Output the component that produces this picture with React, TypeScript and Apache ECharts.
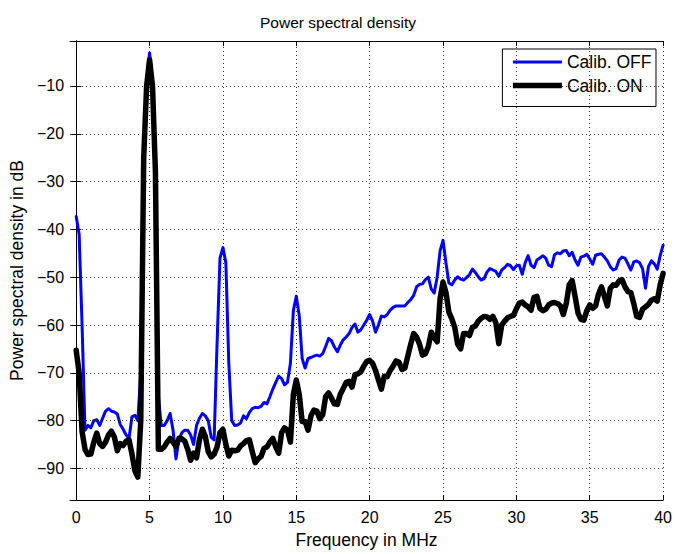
import React, { useEffect, useRef } from "react";
import * as echarts from "echarts";

const TITLE = "Power spectral density";
const X_NAME = "Frequency in MHz";
const Y_NAME = "Power spectral density in dB";
const SERIES_NAMES = ["Calib. OFF", "Calib. ON"];
const X_TICKS = [0, 5, 10, 15, 20, 25, 30, 35, 40];
const Y_TICKS = [-90, -80, -70, -60, -50, -40, -30, -20, -10];

// sampling grid: 0 .. 40 MHz, 0.2 MHz step
const FREQ = Array.from({ length: 201 }, (_, i) => Math.round(i * 2) / 10);

const CALIB_OFF = [
  -37.3, -41, -60, -82, -81, -81.5, -80, -79.8, -81, -79.5,
  -78, -77.5, -78, -78.2, -78.6, -80.8, -81.8, -83, -83.7, -79.2,
  -78.9, -80, -70, -30, -9, -3.1, -9, -30, -75, -81,
  -81, -80, -78.5, -82, -88, -84, -82.5, -82, -82, -83,
  -85, -81, -79.5, -78.5, -79, -80, -83.5, -84, -64, -46,
  -43.8, -47, -68, -80, -81, -80.9, -80.5, -79, -79.6, -78.3,
  -77.5, -77.2, -77.3, -77, -76.2, -76.5, -75, -73.4, -72, -70.7,
  -71.2, -72.5, -72, -68, -57, -54, -58, -67, -69, -67,
  -66.8, -66.5, -66.3, -66.5, -66, -64.5, -62.8, -63.3, -64.6, -65.6,
  -64.2, -63.1, -62.5, -61.8, -60.5, -59.8, -61.5, -61, -60, -59,
  -57.8, -59.2, -61.5, -60, -58.1, -58.3, -57.8, -56.9, -56.3, -56,
  -56, -56, -56, -55.3, -54.7, -53.8, -52, -51.5, -51.4, -50.5,
  -50, -52.5, -53.3, -50, -44.5, -42.3, -47, -51.2, -51.6, -50.6,
  -49.9, -50.4, -50.6, -50.1, -49.5, -48.3, -49, -49.9, -50.6, -50.3,
  -48.9, -48.2, -48.5, -48.8, -49.8, -48.5, -48, -47.3, -47.6, -48.4,
  -47.6, -47.5, -49.4, -47, -45.5, -47.5, -48, -46.4, -46, -45.5,
  -46, -47.5, -47.8, -45.3, -44.9, -45.1, -44.5, -44.4, -45.5, -44.8,
  -46.4, -47.5, -45.8, -45.6, -45.2, -46.2, -47.3, -45.4, -45.2, -45.1,
  -45.8, -46.6, -47.8, -48.5, -48.2, -46.4, -45.8, -46, -47.2, -48.5,
  -46.8, -46.6, -47, -48.2, -52.3, -47.8, -46.6, -47.2, -48.3, -45.5,
  -43.3,
];

const CALIB_ON = [
  -65.3, -70, -82.3, -86, -87.1, -87, -84.5, -82.6, -84.8, -85.4,
  -84.5, -83, -82.2, -83.4, -86.3, -84.8, -85.2, -84.3, -84, -87,
  -90.5, -91.8, -80, -25, -10, -4.5, -10, -28, -86, -86,
  -85.5, -84.5, -83.7, -84.5, -85.4, -83.7, -83.8, -84.3, -86, -88.3,
  -86.8, -87.8, -84, -81.8, -83.3, -86.5, -87.6, -87, -85.5, -82.5,
  -81.8, -85, -87.4, -86.2, -86.3, -86.2, -85.3, -84.8, -84.2, -84,
  -86.5, -88.8, -88, -87.5, -85.8, -85.5, -84.5, -83.7, -85.5, -86.8,
  -82.5, -81.5, -82, -84.5, -74.5, -71.5, -74.5, -80.2, -80.2, -82,
  -79, -77.8, -78, -79.6, -78.8, -75, -74.2, -75.3, -76.5, -76.6,
  -74.5, -73.3, -72, -71.8, -73, -70.4, -70.2, -69.8, -68.6, -67.6,
  -67.4, -68, -69.5, -71.5, -73.4, -70.7, -70.8, -69.5, -68.6, -67.5,
  -67.8, -69.3, -69, -66.5, -64, -61.8, -62.5, -64, -66.3, -66,
  -64.5, -61.5, -62.6, -63.5, -54.5, -51, -53.2, -57.3, -58.7, -60.5,
  -64, -65, -61.8, -61.8, -62.2, -60.5, -60.2, -59.2, -58.6, -58.2,
  -58.3, -58.8, -58.2, -59.5, -63.9, -60, -59.2, -58.5, -58.2, -58,
  -56.6, -55.4, -55.2, -55.8, -56.2, -56.9, -54.2, -54, -56.5, -57,
  -56.7, -55.8, -55.4, -55.3, -55.5, -56, -57.8, -55.5, -51.6, -50.7,
  -54, -57.5, -58.8, -59, -57, -55.8, -56.5, -56, -53.5, -52,
  -54, -56, -52.3, -51.6, -51.7, -50.8, -50.5, -52, -53, -53.2,
  -55.5, -58.2, -58.4, -56.7, -56.2, -55.7, -54.8, -54.5, -55, -51.6,
  -49.2,
];

const FONT = "'Liberation Sans', Arial, Helvetica, sans-serif";

export default function App() {
  const ref = useRef<HTMLDivElement>(null);

  useEffect(() => {
    document.body.style.margin = "0";
    if (!ref.current) return;
    const chart = echarts.init(ref.current, null, { renderer: "svg" });

    const minus = (v: number) => String(v).replace("-", "\u2212");
    const X_MIN = -0.42;
    const X_MAX = 40;
    const Y_MIN = -96.6;
    const Y_MAX = -0.6;
    const LINE_W = [3, 5.5];
    const COLORS = ["#0000ff", "#000000"];
    const LEGEND_ICONS = ["path://M0 0H49V3H0Z", "path://M0 0H49V5.5H0Z"];

    const axisLine = { show: true, lineStyle: { color: "#000", width: 1 } };
    const tickStyle = { color: "#000", width: 1 };

    const option: any = {
      animation: false,
      backgroundColor: "#fff",
      textStyle: { fontFamily: FONT },
      graphic: [
        {
          type: "text",
          x: 338,
          y: 22,
          style: {
            text: TITLE,
            fill: "#000",
            font: `15.5px ${FONT}`,
            textAlign: "center",
            textVerticalAlign: "middle",
          },
        },
      ],
      grid: { left: 70, right: 11, top: 41, bottom: 44, containLabel: false },
      legend: {
        data: SERIES_NAMES.map((name, i) => ({
          name,
          icon: LEGEND_ICONS[i],
          itemStyle: { color: COLORS[i], borderWidth: 0, borderColor: "transparent" },
        })),
        symbolKeepAspect: true,
        orient: "vertical",
        right: 19,
        top: 49,
        itemWidth: 49,
        itemHeight: 14,
        itemGap: 5.5,
        padding: [4, 4.5, 12, 10.5],
        borderColor: "#000",
        borderWidth: 1,
        borderRadius: 0,
        backgroundColor: "#fff",
        selectedMode: false,
        itemStyle: { borderWidth: 0, borderColor: "transparent" },
        textStyle: { fontSize: 17.5, color: "#000", fontFamily: FONT },
      },
      xAxis: [
        {
          type: "value",
          min: X_MIN,
          max: X_MAX,
          position: "bottom",
          name: X_NAME,
          nameLocation: "middle",
          nameGap: 31,
          nameTextStyle: { fontSize: 17.5, color: "#000", fontFamily: FONT },
          axisLine,
          axisTick: { show: true, inside: true, length: 5, lineStyle: tickStyle, customValues: X_TICKS },
          axisLabel: { show: true, customValues: X_TICKS, fontSize: 16, color: "#000", margin: 9, fontFamily: FONT },
          splitLine: { show: false },
        },
        {
          type: "value",
          min: X_MIN,
          max: X_MAX,
          position: "top",
          axisLine,
          axisTick: { show: true, inside: true, length: 5, lineStyle: tickStyle, customValues: X_TICKS },
          axisLabel: { show: false },
          splitLine: { show: false },
        },
      ],
      yAxis: [
        {
          type: "value",
          min: Y_MIN,
          max: Y_MAX,
          position: "left",
          name: Y_NAME,
          nameLocation: "middle",
          nameGap: 43,
          nameRotate: 90,
          nameTextStyle: { fontSize: 17.5, color: "#000", fontFamily: FONT },
          axisLine,
          axisTick: { show: true, inside: true, length: 5, lineStyle: tickStyle, customValues: Y_TICKS },
          axisLabel: {
            show: true,
            customValues: Y_TICKS,
            fontSize: 16,
            color: "#000",
            margin: 6,
            fontFamily: FONT,
            formatter: minus,
          },
          splitLine: { show: false },
        },
        {
          type: "value",
          min: Y_MIN,
          max: Y_MAX,
          position: "right",
          axisLine,
          axisTick: { show: true, inside: true, length: 5, lineStyle: tickStyle, customValues: Y_TICKS },
          axisLabel: { show: false },
          splitLine: { show: false },
        },
      ],
      series: [
        {
          name: "grid",
          type: "line",
          data: [],
          silent: true,
          z: 1,
          markLine: {
            silent: true,
            symbol: ["none", "none"],
            label: { show: false },
            lineStyle: { color: "#000", type: [1, 3], width: 1, opacity: 0.8 },
            emphasis: { disabled: true },
            data: [
              ...X_TICKS.map((v) => ({ xAxis: v })),
              ...Y_TICKS.map((v) => ({ yAxis: v })),
            ],
          },
        },
        {
          name: SERIES_NAMES[0],
          type: "line",
          z: 2,
          symbol: "none",
          showSymbol: false,
          data: FREQ.map((f, i) => [f, CALIB_OFF[i]]),
          lineStyle: { color: COLORS[0], width: LINE_W[0], join: "round", cap: "round" },
          itemStyle: { color: COLORS[0] },
        },
        {
          name: SERIES_NAMES[1],
          type: "line",
          z: 3,
          symbol: "none",
          showSymbol: false,
          data: FREQ.map((f, i) => [f, CALIB_ON[i]]),
          lineStyle: { color: COLORS[1], width: LINE_W[1], join: "round", cap: "round" },
          itemStyle: { color: COLORS[1] },
        },
      ],
    };

    chart.setOption(option);
    return () => chart.dispose();
  }, []);

  return (
    <div
      ref={ref}
      style={{ position: "fixed", left: 0, top: 0, width: 675, height: 554, background: "#fff" }}
    />
  );
}
